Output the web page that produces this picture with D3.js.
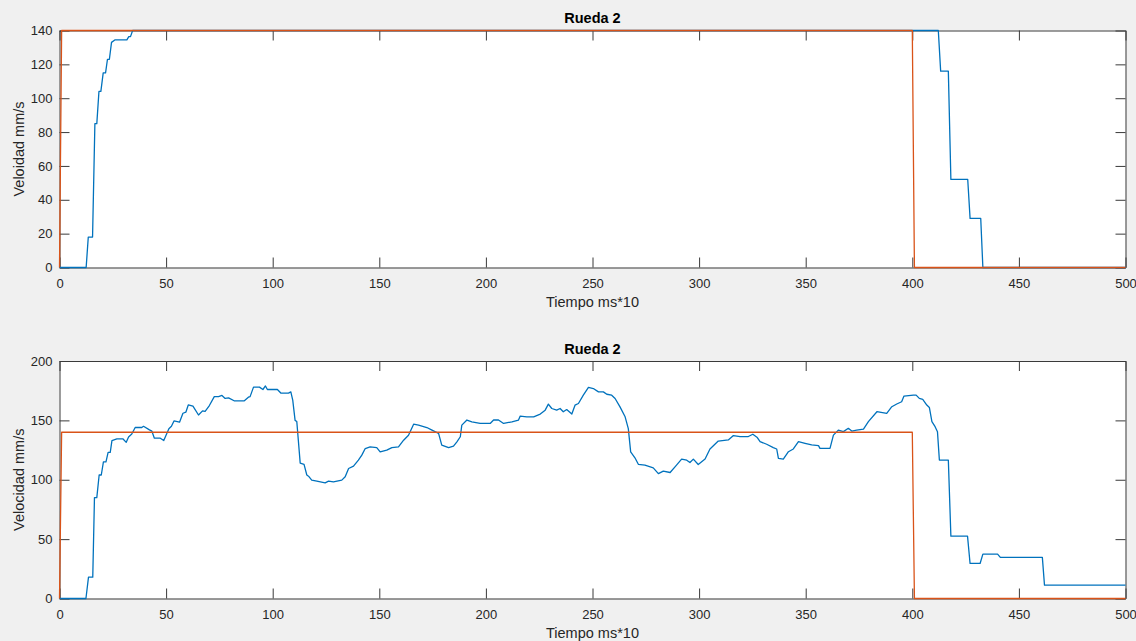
<!DOCTYPE html>
<html>
<head>
<meta charset="utf-8">
<script src="https://cdn.jsdelivr.net/npm/d3@7"></script>
<style>
  html, body { margin: 0; padding: 0; background: #f0f0f0; }
  svg { display: block; }
  text { font-family: "Liberation Sans", Arial, Helvetica, sans-serif; }
</style>
</head>
<body>
<script>
// Eje de tiempo (ms*10)
const ticksTiempo = [0, 50, 100, 150, 200, 250, 300, 350, 400, 450, 500];
const ticksVelSup = [0, 20, 40, 60, 80, 100, 120, 140];
const ticksVelInf = [0, 50, 100, 150, 200];

// Consigna de velocidad (referencia)
const tiempoRef = [0, 1, 400, 401, 500];
const velRef    = [0, 140, 140, 0, 0];

// Velocidad medida, primer ensayo (saturada en 140)
const tiempoSup = [0, 12.5, 13.5, 15.5, 16.6, 17.5, 18.5, 19.4, 20.5, 21.6, 22.5, 23.4, 24.4, 26.1,
  31.6, 32.5, 33.3, 34.3, 412.2, 413.3, 416.9, 418.1, 426, 427.1, 432.1, 433.1, 500];
const velSup = [0, 0, 18, 18, 85, 85, 104, 104, 115, 115, 123, 123, 133, 134.5,
  134.5, 136.4, 136.4, 140, 140, 116, 116, 52, 52, 29, 29, 0, 0];

// Velocidad medida, segundo ensayo
const tiempoInf = [0, 12.4, 13.6, 15.6, 16.4, 17.5, 18.6, 19.6, 20.6, 21.8, 22.8, 23.8, 24.6, 26.9,
  29.7, 31.3, 32.4, 33.9, 35.5, 38.6, 39.4, 42.2, 43.3, 44.5, 47.3, 48.9, 51.3, 52.5, 53.7, 56.3,
  57.9, 59.3, 60.4, 62.6, 65.2, 67.1, 68.3, 70.3, 72.6, 74.6, 76.2, 77.7, 79.3, 81.9, 86.7, 88.6,
  89.4, 91, 93.8, 95.4, 96.6, 97.5, 102.2, 103.8, 107.4, 108.5, 109.4, 110.5, 111.3, 112.9, 114.7,
  116, 116.8, 118.3, 120.7, 124.6, 126.2, 128.5, 132.4, 134, 135.6, 137.9, 140.2, 141.8, 143.4,
  145.7, 148.8, 150.4, 153.5, 155.9, 159, 161.4, 163.7, 166.1, 168.4, 172.3, 174.7, 177.8, 179.3,
  182.5, 184.8, 186.4, 188, 188.7, 191.1, 193.4, 197.3, 202, 203.6, 205.9, 208.3, 212.2, 215.3,
  216.1, 219.2, 222.4, 225.5, 227.8, 229.3, 230.9, 233.2, 234.8, 236.3, 237.9, 240.3, 241.8, 243.4,
  245.7, 248.1, 250.4, 252.8, 255.1, 256.7, 259, 260.6, 262.9, 265.3, 266.8, 267.9, 269.9, 271.5,
  274.6, 278.5, 280.9, 283.2, 286.4, 288.7, 291.8, 294.2, 295.7, 297.3, 299.6, 302.8, 305.1, 309,
  313.7, 316.1, 319.2, 323.1, 325.2, 327.3, 328.6, 331.7, 334.8, 336.4, 337.2, 339.5, 341.9, 344.2,
  346.6, 349.7, 352.8, 356, 356.7, 361.4, 363, 365.3, 367.7, 370, 371.6, 373.9, 377.1, 379.4, 383.4,
  388, 390.4, 392.7, 395, 396.1, 400.5, 401.8, 403.3, 404.9, 406.8, 408, 409.2, 410.7, 411.8, 412.7,
  416.9, 418.1, 425.9, 427.1, 431.8, 433.1, 440, 441.3, 461, 462, 500];
const velInf = [0, 0, 18, 18, 85, 85, 104, 104, 115, 115, 123, 123, 133, 134.5,
  134.5, 131.5, 136, 138.5, 144, 144, 145, 142, 141, 135, 135, 133, 143, 145, 149.5, 148.5,
  156, 157, 163, 162, 154.5, 158, 157.5, 162.5, 170, 170, 171, 168.5, 169, 166.5, 166.5, 169.5,
  170, 178, 178, 176, 179, 176, 176, 173, 173, 174, 167, 150, 149, 114, 113,
  104, 103, 99.7, 98.8, 97.4, 98.8, 98.2, 99.7, 102.5, 109.5, 111.5, 116.5, 120.7, 126.3,
  127.7, 127.1, 123.5, 124.9, 127.1, 127.7, 133.3, 137.5, 146.8, 146, 144, 141.8, 139, 129.2,
  127.1, 128.3, 131.9, 136.2, 146, 150.3, 148.8, 147.4, 147.4, 150.3, 150.3, 147.4, 148.8, 150.3,
  153.6, 153, 153, 155.3, 158.6, 163.7, 160, 158.6, 160, 157.2, 159.1, 155.3, 162.8, 164.2,
  171.2, 177.7, 176.8, 174, 174, 172, 171.2, 168.4, 161.4, 153, 143.1, 123.5, 118.5, 113,
  112.3, 110, 105.2, 107.2, 106.1, 110.9, 117.4, 116.5, 114.5, 117.4, 112.8, 117.4, 125.9, 132.6,
  133.5, 137.2, 136.4, 136.4, 138.3, 135.5, 132.1, 129.9, 127.1, 125.9, 118, 117.4, 123.6, 125.9,
  132.1, 130.7, 129.3, 128.7, 126.4, 126.4, 137.6, 141.8, 140.5, 143.3, 141, 141.8, 142.7, 148.9, 157.3,
  155.9, 161.5, 163.8, 165.7, 170.5, 171.3, 171.3, 168.5, 167.7, 162.9, 160.9, 148.9, 144.7, 140.5, 116.6,
  116.6, 52.5, 52.5, 29.5, 29.5, 37.4, 37.4, 34.6, 34.6, 11.3, 11.3];

const W = 1136, H = 641;
const colorMedida = "#0072BD";
const colorRef = "#D95319";
const ejeColor = "#3a3a3a";
const textoColor = "#262626";

const svg = d3.select("body").append("svg")
  .attr("width", W).attr("height", H);

svg.append("rect").attr("width", W).attr("height", H).attr("fill", "#f0f0f0");

const x = d3.scaleLinear().domain([0, 500]).range([59.5, 1125.5]);

function panel(opts) {
  const { y, ticksY, titulo, etiquetaY, tiempo, vel, id } = opts;
  const g = svg.append("g");
  const [y0, y1] = y.range();

  g.append("rect")
    .attr("x", x.range()[0]).attr("y", y1)
    .attr("width", x.range()[1] - x.range()[0]).attr("height", y0 - y1)
    .attr("fill", "#ffffff");

  const estilo = sel => {
    sel.select(".domain").attr("stroke", ejeColor).attr("stroke-width", 1);
    sel.selectAll(".tick line").attr("stroke", ejeColor).attr("stroke-width", 1);
    sel.selectAll(".tick text").attr("fill", textoColor)
      .style("font-size", "13px")
      .style("font-family", "'Liberation Sans', Arial, sans-serif");
  };

  g.append("g").attr("transform", `translate(0,${y0})`)
    .call(d3.axisBottom(x).tickValues(ticksTiempo).tickSizeInner(-10).tickSizeOuter(0).tickPadding(11))
    .call(estilo);
  g.append("g").attr("transform", `translate(0,${y1})`)
    .call(d3.axisTop(x).tickValues(ticksTiempo).tickSizeInner(-10).tickSizeOuter(0).tickFormat(""))
    .call(estilo);
  g.append("g").attr("transform", `translate(${x.range()[0]},0)`)
    .call(d3.axisLeft(y).tickValues(ticksY).tickSizeInner(-10).tickSizeOuter(0).tickPadding(7))
    .call(estilo);
  g.append("g").attr("transform", `translate(${x.range()[1]},0)`)
    .call(d3.axisRight(y).tickValues(ticksY).tickSizeInner(-10).tickSizeOuter(0).tickFormat(""))
    .call(estilo);

  g.selectAll(".tick text").filter(function () { return this.textContent === ""; }).remove();

  // recorte del área de trazado
  svg.append("clipPath").attr("id", id)
    .append("rect")
    .attr("x", x.range()[0] - 2).attr("y", y1 - 2)
    .attr("width", x.range()[1] - x.range()[0] + 4).attr("height", y0 - y1 + 4);

  const linea = d3.line().x(d => x(d[0])).y(d => y(d[1]));
  const datos = tiempo.map((t, i) => [t, vel[i]]);
  const datosRef = tiempoRef.map((t, i) => [t, velRef[i]]);

  g.append("path").datum(datos)
    .attr("clip-path", `url(#${id})`)
    .attr("fill", "none").attr("stroke", colorMedida)
    .attr("stroke-width", 1.3).attr("stroke-linejoin", "round")
    .attr("d", linea);
  g.append("path").datum(datosRef)
    .attr("clip-path", `url(#${id})`)
    .attr("fill", "none").attr("stroke", colorRef)
    .attr("stroke-width", 1.3).attr("stroke-linejoin", "round")
    .attr("d", linea);

  const cx = (x.range()[0] + x.range()[1]) / 2;
  g.append("text").attr("x", cx).attr("y", y1 - 7.5)
    .attr("text-anchor", "middle").attr("fill", "#000")
    .style("font-size", "14.5px").style("font-weight", "bold")
    .text(titulo);
  g.append("text").attr("x", cx).attr("y", y0 + 39.5)
    .attr("text-anchor", "middle").attr("fill", textoColor)
    .style("font-size", "14.5px")
    .text("Tiempo ms*10");
  g.append("text")
    .attr("transform", `translate(23.5,${(y0 + y1) / 2}) rotate(-90)`)
    .attr("text-anchor", "middle").attr("fill", textoColor)
    .style("font-size", "14.5px")
    .text(etiquetaY);
}

panel({
  y: d3.scaleLinear().domain([0, 140]).range([267.5, 30.5]),
  ticksY: ticksVelSup, titulo: "Rueda 2", etiquetaY: "Veloidad mm/s",
  tiempo: tiempoSup, vel: velSup, id: "clipSup"
});
panel({
  y: d3.scaleLinear().domain([0, 200]).range([598.5, 361]),
  ticksY: ticksVelInf, titulo: "Rueda 2", etiquetaY: "Velocidad mm/s",
  tiempo: tiempoInf, vel: velInf, id: "clipInf"
});
</script>
</body>
</html>
